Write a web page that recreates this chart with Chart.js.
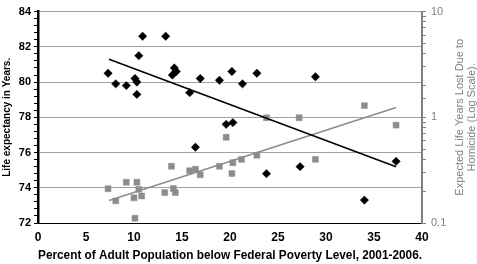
<!DOCTYPE html>
<html>
<head>
<meta charset="utf-8">
<script src="https://cdn.jsdelivr.net/npm/chart.js@4"></script>
<style>
  html, body { margin: 0; padding: 0; background: #fff; }
</style>
</head>
<body>
<canvas id="grafico" width="477" height="264"></canvas>
<script>
// pobreza vs esperanza de vida y años perdidos por homicidio
const pobrezaVida = [7.3, 8.1, 9.2, 10.1, 10.3, 10.3, 10.5, 10.9, 13.3, 14.0, 14.2, 14.4, 15.8, 16.4, 16.9, 18.9, 19.6, 20.2, 20.3, 21.3, 22.8, 23.8, 27.3, 28.9, 34.0, 37.3]
const esperanzaVida = [80.5, 79.9, 79.8, 80.2, 80.0, 79.3, 81.5, 82.6, 82.6, 80.4, 80.8, 80.6, 79.4, 76.3, 80.2, 80.1, 77.6, 80.6, 77.7, 79.9, 80.5, 74.8, 75.2, 80.3, 73.3, 75.5]

const pobrezaHomicidio = [7.3, 8.1, 9.2, 10.0, 10.1, 10.3, 10.5, 10.8, 13.2, 13.9, 14.1, 14.3, 15.8, 16.4, 16.9, 18.9, 19.6, 20.2, 20.3, 21.2, 22.8, 23.8, 27.2, 28.9, 34.0, 37.3]
const aniosHomicidio = [0.211, 0.162, 0.243, 0.173, 0.111, 0.243, 0.208, 0.180, 0.194, 0.344, 0.212, 0.194, 0.312, 0.323, 0.286, 0.344, 0.647, 0.294, 0.372, 0.400, 0.438, 0.99, 0.99, 0.400, 1.29, 0.843]

// lineas de tendencia (extremos)
const tendenciaX = [7.4, 37.3]
const tendenciaVida = [81.3, 75.2]
const tendenciaHomicidio = [0.163, 1.24]

const ticksIzq = [72, 74, 76, 78, 80, 82, 84]
const ticksDer = [0.1, 1, 10]

const gris = '#8c8c8c'
const fuente = '"Liberation Sans", Arial, sans-serif'

const pares = (xs, ys) => xs.map((x, i) => ({ x: x, y: ys[i] }))

const esMayor = v => ticksIzq.some(t => Math.abs(t - v) < 1e-6)

const tituloDerecho = {
    id: 'tituloDerecho',
    afterDraw(chart) {
        const c = chart.ctx
        const yc = (chart.chartArea.top + chart.chartArea.bottom) / 2
        c.save()
        c.translate(465.5, yc)
        c.rotate(-Math.PI / 2)
        c.fillStyle = '#808080'
        c.font = '11px ' + fuente
        c.textAlign = 'center'
        c.textBaseline = 'middle'
        c.fillText('Expected Life Years Lost Due to', 0, -6)
        c.fillText('Homicide (Log Scale).', 0, 6)
        c.restore()
    }
}

const ctx = document.getElementById('grafico')

new Chart(ctx, {
    type: 'scatter',
    data: {
        datasets: [{
            data: pares(tendenciaX, tendenciaVida),
            type: 'line',
            yAxisID: 'y',
            borderColor: '#000',
            borderWidth: 1.6,
            pointRadius: 0,
            order: 1
        }, {
            data: pares(tendenciaX, tendenciaHomicidio),
            type: 'line',
            yAxisID: 'y2',
            borderColor: gris,
            borderWidth: 1.5,
            pointRadius: 0,
            order: 2
        }, {
            data: pares(pobrezaVida, esperanzaVida),
            yAxisID: 'y',
            pointStyle: 'rectRot',
            pointRadius: 4.2,
            backgroundColor: '#000',
            borderColor: '#000',
            borderWidth: 0.5,
            order: 0
        }, {
            data: pares(pobrezaHomicidio, aniosHomicidio),
            yAxisID: 'y2',
            pointStyle: 'rect',
            pointRadius: 4.2,
            backgroundColor: gris,
            borderColor: gris,
            borderWidth: 0.5,
            order: 3
        }]
    },
    options: {
        responsive: false,
        animation: false,
        devicePixelRatio: 1,
        layout: { padding: { top: 7, left: 0, right: 0, bottom: 0 } },
        plugins: { legend: { display: false }, tooltip: { enabled: false } },
        scales: {
            x: {
                type: 'linear',
                min: 0,
                max: 40,
                ticks: { stepSize: 5, color: '#000', font: { family: fuente, size: 12, weight: 'bold' }, padding: 7 },
                grid: { drawOnChartArea: false, drawTicks: false },
                border: { color: '#000', width: 1 },
                title: {
                    display: true,
                    text: 'Percent of Adult Population below Federal Poverty Level, 2001-2006.',
                    color: '#000',
                    font: { family: fuente, size: 12, weight: 'bold' },
                    padding: { top: 0, bottom: 1 }
                },
                afterFit: s => { s.height = 41 }
            },
            y: {
                position: 'left',
                min: 72,
                max: 84,
                ticks: {
                    stepSize: 0.4,
                    autoSkip: false,
                    color: '#000',
                    font: { family: fuente, size: 11, weight: 'bold' },
                    padding: 3,
                    callback: v => esMayor(v) ? Math.round(v) : ''
                },
                grid: {
                    color: c => (esMayor(c.tick.value) && c.tick.value > 72.1) ? '#a0a0a0' : 'rgba(0,0,0,0)',
                    tickColor: '#000',
                    tickLength: 4
                },
                border: { color: '#000', width: 2.5 },
                title: {
                    display: true,
                    text: 'Life expectancy in Years.',
                    color: '#000',
                    font: { family: fuente, size: 10, weight: 'bold' },
                    padding: { top: 1, bottom: 0 }
                },
                afterFit: s => { s.width = 38 }
            },
            y2: {
                type: 'logarithmic',
                position: 'right',
                min: 0.1,
                max: 10,
                ticks: {
                    autoSkip: false,
                    color: '#808080',
                    font: { family: fuente, size: 11 },
                    padding: 5,
                    callback: v => {
                        const t = ticksDer.find(d => Math.abs(d - v) < 1e-6)
                        return t === undefined ? '' : String(t)
                    }
                },
                grid: { drawOnChartArea: false, tickColor: '#808080', tickLength: 4 },
                border: { color: '#808080', width: 2 },
                afterFit: s => { s.width = 55 }
            }
        }
    },
    plugins: [tituloDerecho]
})
</script>
</body>
</html>
